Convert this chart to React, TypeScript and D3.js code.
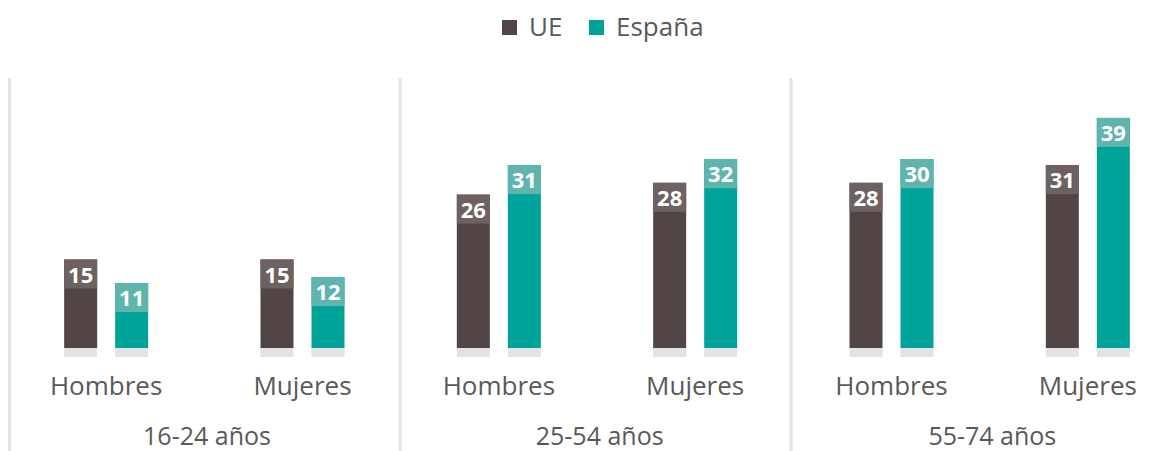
import React from "react";
import * as d3 from "d3";

const groups = ["16-24 años", "25-54 años", "55-74 años"];
const categories = ["Hombres", "Mujeres"];
const seriesNames = ["UE", "España"];
const ueValues = [15, 15, 26, 28, 28, 31];
const espValues = [11, 12, 31, 32, 32, 39];
const ueLabels = ["15", "15", "26", "28", "28", "31"];
const espLabels = ["11", "12", "31", "32", "30", "39"];

const W = 1176;
const H = 451;
const colors = ["#514545", "#00a39a"];
const labelColors = ["#6e6161", "#5fb5ae"];

export default function App() {
  const panelX = d3.scaleBand<string>().domain(groups).range([8, 1186]);
  const sepX = d3.scaleBand<string>().domain(groups).range([9.5, 9.5 + 3 * 390.75]);
  const baseY = 348;
  const y = d3.scaleLinear().domain([0, 40]).range([baseY, baseY - 236]);
  const catX = d3.scaleBand<string>().domain(categories).range([0, panelX.bandwidth()]);
  const barW = 33;
  const gap = 18;
  const seriesX = d3.scaleOrdinal<string, number>().domain(seriesNames).range([-(barW + gap / 2), gap / 2]);
  const boxH = 29;

  const data: { g: string; c: string; s: string; v: number; l: string; i: number }[] = [];
  groups.forEach((g, gi) =>
    categories.forEach((c, ci) => {
      const idx = gi * 2 + ci;
      data.push({ g, c, s: seriesNames[0], v: ueValues[idx], l: ueLabels[idx], i: 0 });
      data.push({ g, c, s: seriesNames[1], v: espValues[idx], l: espLabels[idx], i: 1 });
    })
  );

  const font = "'Open Sans', 'Noto Sans', sans-serif";
  const textColor = "#595959";

  return (
    <svg width={W} height={H} style={{ position: "absolute", left: 0, top: 0, fontFamily: font }}>
      {/* legend */}
      <g>
        <rect x={502} y={20} width={15} height={15} fill={colors[0]} />
        <text x={529} y={36} fontSize={26} fill={textColor}>UE</text>
        <rect x={589} y={20} width={15} height={15} fill={colors[1]} />
        <text x={616} y={36} fontSize={26} fill={textColor}>España</text>
      </g>
      {/* separators */}
      {groups.map((g) => (
        <line key={g} x1={sepX(g)!} x2={sepX(g)!} y1={78} y2={H} stroke="#e3e3e3" strokeWidth={3} />
      ))}
      {data.map((d, k) => {
        const cx = panelX(d.g)! + catX(d.c)! + catX.bandwidth() / 2;
        const x = cx + seriesX(d.s);
        const top = y(d.v);
        return (
          <g key={k}>
            <rect x={x} y={baseY} width={barW} height={9} fill="#e4e2e5" />
            <rect x={x} y={top} width={barW} height={baseY - top} fill={colors[d.i]} />
            <rect x={x} y={top} width={barW} height={boxH} fill={labelColors[d.i]} />
            <text x={x + barW / 2} y={top + 23} textAnchor="middle" fontSize={22} fontWeight={700} fill="#fff">
              {d.l}
            </text>
          </g>
        );
      })}
      {groups.map((g) =>
        categories.map((c) => (
          <text
            key={g + c}
            x={panelX(g)! + catX(c)! + catX.bandwidth() / 2}
            y={395}
            textAnchor="middle"
            fontSize={26}
            fill={textColor}
          >
            {c}
          </text>
        ))
      )}
      {groups.map((g) => (
        <text key={g} x={panelX(g)! + 199} y={445} textAnchor="middle" fontSize={25} fill={textColor}>
          {g}
        </text>
      ))}
    </svg>
  );
}
